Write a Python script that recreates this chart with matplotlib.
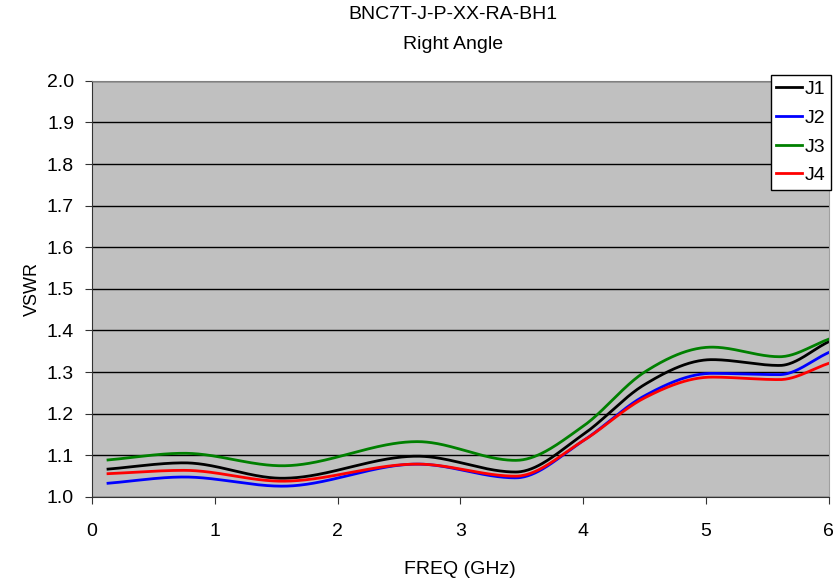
import numpy as np
import matplotlib
matplotlib.use("Agg")
import matplotlib.pyplot as plt

plt.rcParams['font.family'] = ['Liberation Sans', 'DejaVu Sans']

freq = [0.13, 0.75, 1.55, 2.65, 3.45, 4.0, 4.5, 5.05, 5.6, 6.0]
j1 = [1.067, 1.082, 1.045, 1.098, 1.060, 1.150, 1.270, 1.330, 1.316, 1.373]
j2 = [1.033, 1.048, 1.026, 1.079, 1.046, 1.135, 1.243, 1.297, 1.294, 1.347]
j3 = [1.089, 1.105, 1.075, 1.133, 1.088, 1.170, 1.300, 1.360, 1.337, 1.379]
j4 = [1.056, 1.064, 1.038, 1.079, 1.050, 1.135, 1.238, 1.288, 1.282, 1.321]
series = [("J1", j1, "black"), ("J2", j2, "blue"), ("J3", j3, "green"), ("J4", j4, "red")]
xticks = [0, 1, 2, 3, 4, 5, 6]
yticks = [1.0, 1.1, 1.2, 1.3, 1.4, 1.5, 1.6, 1.7, 1.8, 1.9, 2.0]


def smooth(x, y, xs):
    """Cubic Hermite curve with centred tangents (flat at local extrema)."""
    x = np.asarray(x, float); y = np.asarray(y, float)
    h = np.diff(x); d = np.diff(y) / h
    n = len(x); m = np.zeros(n)
    for k in range(1, n - 1):
        if d[k - 1] * d[k] > 0:
            m[k] = (d[k - 1] * h[k] + d[k] * h[k - 1]) / (h[k] + h[k - 1])
    m[0] = d[0]; m[-1] = d[-1]
    idx = np.clip(np.searchsorted(x, xs) - 1, 0, n - 2)
    t = (xs - x[idx]) / h[idx]
    h00 = 2 * t**3 - 3 * t**2 + 1; h10 = t**3 - 2 * t**2 + t
    h01 = -2 * t**3 + 3 * t**2; h11 = t**3 - t**2
    return h00 * y[idx] + h10 * h[idx] * m[idx] + h01 * y[idx + 1] + h11 * h[idx] * m[idx + 1]


fig = plt.figure(figsize=(8.37, 5.81), dpi=100)
ax = fig.add_axes([0.110, 0.1446, 0.880, 0.7164])
ax.set_facecolor('#C0C0C0')

xs = np.linspace(freq[0], freq[-1], 600)
for name, vals, col in series:
    ax.plot(xs, smooth(freq, vals, xs), color=col, lw=2, label=name)

ax.set_xlim(0, 6)
ax.set_ylim(1.0, 2.0)
ax.set_xticks(xticks)
ax.set_xticklabels([str(v) for v in xticks])
ax.set_yticks(yticks)
ax.set_yticklabels([f"{v:.1f}" for v in yticks])
ax.yaxis.grid(True, color='black', lw=1)
ax.set_axisbelow(True)
ax.spines['left'].set_color('#333333')
ax.spines['bottom'].set_color('#333333')
ax.spines['top'].set_color('#808080')
ax.spines['right'].set_color('#A0A0A0')
ax.tick_params(axis='both', labelsize=14, color='#333333', length=5, direction='out')
ax.tick_params(axis='x', pad=14)
ax.tick_params(axis='y', pad=8)
ax.set_xlabel('FREQ (GHz)', fontsize=14, labelpad=15)
ax.set_ylabel('VSWR', fontsize=13, labelpad=4)
fig.text(0.541, 0.989, 'BNC7T-J-P-XX-RA-BH1\nRight Angle', ha='center', va='top',
         fontsize=14, linespacing=1.95)

leg = ax.legend(loc='upper left', bbox_to_anchor=(0.9213, 1.0144), fontsize=14,
                frameon=True, fancybox=False, handlelength=1.3, handletextpad=0.15,
                borderpad=0.3, labelspacing=0.57, borderaxespad=0)
leg.get_frame().set_edgecolor('black')
leg.get_frame().set_linewidth(1)
leg.get_frame().set_facecolor('white')
leg.get_frame().set_alpha(1)
for l in leg.get_lines():
    l.set_linewidth(2)

fig.savefig('out.png', dpi=100)
